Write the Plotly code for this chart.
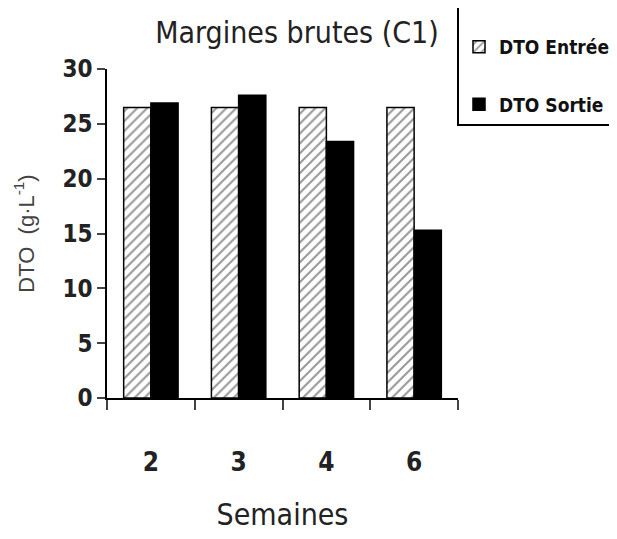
import plotly.graph_objects as go

semaines = ["2", "3", "4", "6"]
dto_entree = [26.5, 26.5, 26.5, 26.5]
dto_sortie = [26.9, 27.6, 23.4, 15.3]
y_ticks = [0, 5, 10, 15, 20, 25, 30]

FONT = "Liberation Sans Narrow, DejaVu Sans Condensed, Arial, sans-serif"

# page has an 8px body margin, so the figure is drawn at offset (8, 8)
OFF = 8
W, H = 617 - OFF, 539 - OFF
L, R, T, B = 107 - OFF, 617 - 458, 69 - OFF, 539 - 398
PH = H - T - B

fig = go.Figure()
fig.add_trace(go.Bar(
    x=semaines, y=dto_entree, name="DTO Entrée", legendgroup="a",
    marker=dict(color="white", line=dict(color="black", width=1.5),
                pattern=dict(shape="/", fgcolor="#333333", bgcolor="white", size=7, solidity=0.3)),
))
fig.add_trace(go.Bar(
    x=semaines, y=dto_sortie, name="DTO Sortie", legendgroup="b",
    marker=dict(color="black", line=dict(color="black", width=1.5)),
))

fig.update_layout(
    width=W, height=H,
    margin=dict(l=L, r=R, t=T, b=B, autoexpand=False),
    paper_bgcolor="white", plot_bgcolor="white",
    barmode="group", bargap=0.38, bargroupgap=0,
    font=dict(family=FONT, color="#222222"),
    title=dict(text="Margines brutes (C1)", x=(297 - OFF) / W, xanchor="center",
               y=1 - (32 - OFF) / H, yanchor="middle",
               font=dict(family=FONT, size=30, color="#222222")),
    legend=dict(x=(457 - 107) / 351, y=(398 - 5) / 329, xanchor="left", yanchor="top",
                bordercolor="black", borderwidth=2, bgcolor="white",
                tracegroupgap=30, traceorder="grouped", itemwidth=30,
                title=dict(text=" ", font=dict(size=16)),
                font=dict(family=FONT, size=19, color="#111111", weight="bold")),
    showlegend=True,
)
fig.update_yaxes(
    range=[0, 30], tickvals=y_ticks, ticks="outside", ticklen=8, tickwidth=1.5,
    showline=True, linecolor="black", linewidth=1.5, showgrid=False, zeroline=False,
    tickfont=dict(family=FONT, size=24, color="#222222", weight="bold"),
    title=dict(text="DTO  (g·L<sup>-1</sup>)", standoff=22,
               font=dict(family="Liberation Sans, Arial, sans-serif", size=22, color="#444444")),
)
fig.update_xaxes(
    type="category", tickson="boundaries", ticks="outside", ticklen=10, tickwidth=1.5,
    showline=True, linecolor="black", linewidth=1.5, showgrid=False,
    ticklabelstandoff=40,
    tickfont=dict(family=FONT, size=26, color="#222222", weight="bold"),
    title=dict(text="Semaines", standoff=28,
               font=dict(family=FONT, size=30, color="#222222")),
)

fig.write_html("out.html")
